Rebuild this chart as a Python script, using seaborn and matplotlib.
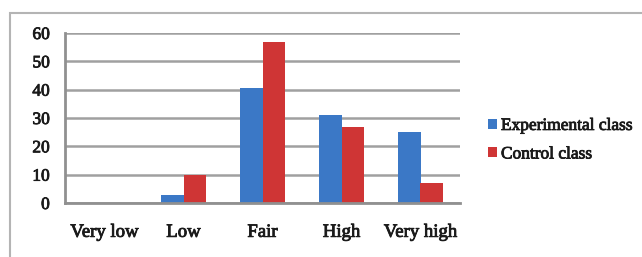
import matplotlib
matplotlib.use("Agg")
import matplotlib.pyplot as plt
import matplotlib.patheffects as pe
import seaborn as sns
import pandas as pd
from matplotlib.patches import Rectangle, Patch

categories = ["Very low", "Low", "Fair", "High", "Very high"]
experimental = [0, 3, 40.5, 31, 25]
control = [0, 10, 57, 27, 7]
series = ["Experimental class", "Control class"]
yticks = [0, 10, 20, 30, 40, 50, 60]

df = pd.DataFrame({
    "category": categories * 2,
    "value": experimental + control,
    "series": [series[0]] * len(categories) + [series[1]] * len(categories),
})

sns.set_theme(style="white")
plt.rcParams["font.family"] = ["Liberation Serif", "DejaVu Serif"]

fig = plt.figure(figsize=(6.42, 2.57), dpi=100)
ax = fig.add_axes([65/642, 1-203/257, 395/642, 170/257])

# outer frame
fig.patches.append(Rectangle((10/642, -0.05), 1.0, 1-13/257+0.05, transform=fig.transFigure,
                             fill=False, edgecolor="#b4b4b4", linewidth=1.5))

palette = {series[0]: "#3b78c6", series[1]: "#cf3535"}
sns.barplot(data=df, x="category", y="value", hue="series", palette=palette,
            width=0.56, ax=ax, legend=False, edgecolor="none", saturation=1)

thick = [pe.withStroke(linewidth=0.6, foreground="#1a1a1a")]

ax.set_ylim(0, 60)
ax.set_yticks(yticks)
ax.set_yticklabels([str(t) for t in yticks], fontsize=12.5, color="#1a1a1a")
ax.set_xticks(range(len(categories)))
ax.set_xticklabels(categories, fontsize=13.5, color="#1a1a1a")
for lbl in ax.get_xticklabels() + ax.get_yticklabels():
    lbl.set_path_effects(thick)
ax.tick_params(axis="y", length=0, pad=11)
ax.tick_params(axis="x", length=0, pad=15)
ax.set_xlabel("")
ax.set_ylabel("")
ax.set_xlim(-0.5, len(categories) - 0.5)
ax.yaxis.grid(True, color="#a0a0a0", linewidth=1.8)
ax.set_axisbelow(True)
for s in ["top", "right"]:
    ax.spines[s].set_visible(False)
ax.spines["left"].set_color("#909090")
ax.spines["left"].set_linewidth(2)
ax.spines["bottom"].set_color("#909090")
ax.spines["bottom"].set_linewidth(2)

handles = [Patch(facecolor=palette[s], edgecolor="none") for s in series]
leg = fig.legend(handles, series, loc="upper left", bbox_to_anchor=(481/642, 1-111/257),
                 frameon=False, fontsize=12.5, handlelength=0.5, handleheight=0.5,
                 handletextpad=0.25, labelspacing=0.72, borderaxespad=0)
for t in leg.get_texts():
    t.set_color("#1a1a1a")
    t.set_path_effects(thick)

fig.savefig("out.png", dpi=100)
